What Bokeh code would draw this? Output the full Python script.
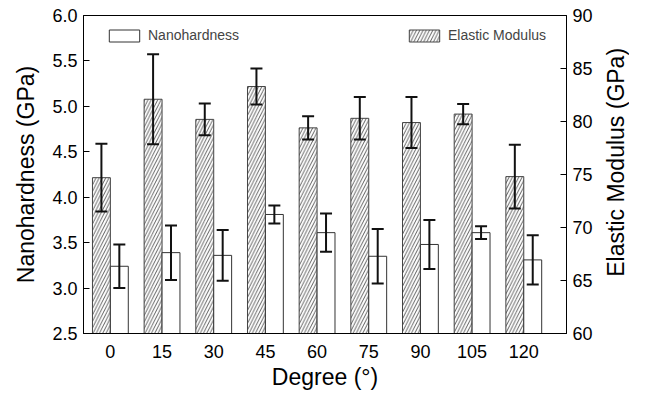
import math
from bokeh.plotting import figure
from bokeh.layouts import row
from bokeh.models import (ColumnDataSource, Range1d, LinearAxis, FixedTicker, Whisker, TeeHead,
                          Legend, LegendItem, NumeralTickFormatter, Label)
from bokeh.embed import file_html
from bokeh.resources import INLINE

degrees = [0, 15, 30, 45, 60, 75, 90, 105, 120]
tick_labels = ["0", "15", "30", "45", "60", "75", "90", "105", "120"]
hardness = [3.24, 3.39, 3.36, 3.81, 3.61, 3.35, 3.48, 3.61, 3.31]
hardness_err = [0.24, 0.30, 0.28, 0.10, 0.21, 0.30, 0.27, 0.07, 0.27]
modulus = [74.7, 82.1, 80.2, 83.3, 79.4, 80.3, 79.9, 80.7, 74.8]
modulus_err = [3.2, 4.25, 1.5, 1.7, 1.1, 2.0, 2.4, 0.95, 3.0]

FONT = "Liberation Sans"
off = 2.6
bw = 5.2

hs = ColumnDataSource(dict(
    x=[d + off for d in degrees], top=hardness,
    lo=[v - e for v, e in zip(hardness, hardness_err)],
    hi=[v + e for v, e in zip(hardness, hardness_err)]))
ms = ColumnDataSource(dict(
    x=[d - off for d in degrees], top=modulus,
    lo=[v - e for v, e in zip(modulus, modulus_err)],
    hi=[v + e for v, e in zip(modulus, modulus_err)]))

W, H = 600, 392
W2 = 29
ML, MR, MT, MB = 83, 34, 15, 55
p = figure(width=W, height=H, output_backend="svg", toolbar_location=None,
           x_range=Range1d(-7.8, 132.4), y_range=Range1d(2.5, 6.0),
           min_border_left=ML, min_border_right=MR, min_border_top=MT, min_border_bottom=MB)
p.extra_y_ranges = {"em": Range1d(60, 90)}
p.grid.visible = False
p.outline_line_color = "black"
p.outline_line_width = 1
p.background_fill_color = "white"

r_m = p.vbar(x="x", top="top", bottom=60, width=bw, source=ms, y_range_name="em",
             fill_color="white", line_color="#444444", line_width=1,
             hatch_pattern="/", hatch_color="#333333", hatch_scale=6.5, hatch_weight=0.8)
r_h = p.vbar(x="x", top="top", bottom=2.5, width=bw, source=hs,
             fill_color="white", line_color="#333333", line_width=1)

for src, rng in [(ms, "em"), (hs, "default")]:
    p.add_layout(Whisker(base="x", upper="hi", lower="lo", source=src, y_range_name=rng,
                         level="overlay", line_color="#111111", line_width=2,
                         upper_head=TeeHead(size=12, line_width=2, line_color="#111111"),
                         lower_head=TeeHead(size=12, line_width=2, line_color="#111111")))

# x axis
xa = p.xaxis[0]
xa.ticker = FixedTicker(ticks=degrees)
xa.major_label_overrides = {d: t for d, t in zip(degrees, tick_labels)}
xa.major_tick_line_color = None
xa.axis_label = "Degree (°)"

# left axis
ya = p.yaxis[0]
ya.ticker = FixedTicker(ticks=[2.5, 3.0, 3.5, 4.0, 4.5, 5.0, 5.5, 6.0])
ya.formatter = NumeralTickFormatter(format="0.0")
ya.axis_label = "Nanohardness (GPa)"

# right axis (its title is drawn in the narrow panel next to it)
ra = LinearAxis(y_range_name="em",
                ticker=FixedTicker(ticks=[60, 65, 70, 75, 80, 85, 90]))
p.add_layout(ra, "right")

for ax in [xa, ya, ra]:
    ax.axis_line_color = "black"
    ax.axis_line_width = 1
    ax.major_label_text_font = FONT
    ax.major_label_text_font_size = "18px"
    ax.major_label_text_color = "black"
    ax.axis_label_text_font = FONT
    ax.axis_label_text_font_size = "23px"
    ax.axis_label_text_font_style = "normal"
    ax.axis_label_text_color = "black"
    ax.minor_tick_line_color = None
for ax in [ya, ra]:
    ax.major_tick_in = 6
    ax.major_tick_out = 0
    ax.major_tick_line_color = "black"
    ax.major_label_standoff = 6
ya.axis_label_standoff = 10
xa.major_label_standoff = 5
xa.axis_label_standoff = 3

frame_h = H - MT - MB

leg1 = Legend(items=[LegendItem(label="Nanohardness", renderers=[r_h])],
              location=(22, frame_h - 32))
leg2 = Legend(items=[LegendItem(label="Elastic Modulus", renderers=[r_m])],
              location=(322, frame_h - 32))
for lg in [leg1, leg2]:
    lg.background_fill_alpha = 0
    lg.border_line_color = None
    lg.label_text_font = FONT
    lg.label_text_font_size = "14px"
    lg.glyph_width = 38
    lg.glyph_height = 15
    lg.padding = 4
    lg.margin = 0
    lg.label_standoff = 5
    p.add_layout(lg, "center")

# narrow panel carrying the right-hand axis title, reading bottom-to-top
p2 = figure(width=W2, height=H, output_backend="svg", toolbar_location=None,
            x_range=Range1d(0, 1), y_range=Range1d(0, 1), min_border=0)
p2.axis.visible = False
p2.grid.visible = False
p2.outline_line_color = None
p2.add_layout(Label(x=0.55, y=1 - 181 / H, text="Elastic Modulus (GPa)", angle=math.pi / 2,
                    text_align="center", text_baseline="middle",
                    text_font=FONT, text_font_size="23px", text_color="black"))

layout = row(p, p2, spacing=0)
open("out.html", "w").write(file_html(layout, INLINE))
